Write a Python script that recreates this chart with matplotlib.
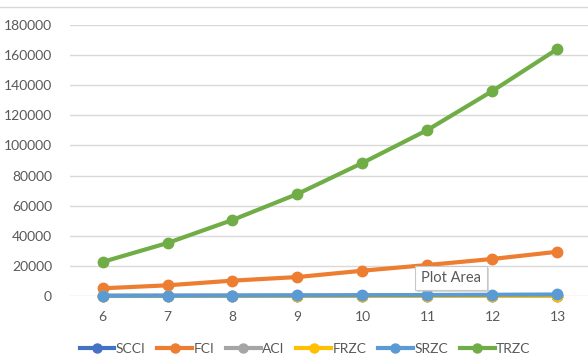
import numpy as np
import matplotlib
matplotlib.use('Agg')
import matplotlib.pyplot as plt
from matplotlib.lines import Line2D
from matplotlib.patches import Rectangle

years = [6, 7, 8, 9, 10, 11, 12, 13]
scci = [60, 80, 110, 140, 170, 210, 250, 290]
fci = [5100, 7100, 10200, 12600, 16800, 20600, 24600, 29400]
aci = [30, 40, 50, 60, 80, 90, 110, 130]
frzc = [20, 30, 40, 50, 60, 80, 90, 110]
srzc = [150, 220, 300, 400, 520, 660, 820, 1000]
trzc = [22600, 35200, 50500, 67800, 88400, 110300, 136200, 164100]

names = ['SCCI', 'FCI', 'ACI', 'FRZC', 'SRZC', 'TRZC']
colors = ['#4472C4', '#ED7D31', '#A5A5A5', '#FFC000', '#5B9BD5', '#70AD47']
series = [scci, fci, aci, frzc, srzc, trzc]

plt.rcParams['font.family'] = ['Lato', 'DejaVu Sans']

W, H = 588, 356
fig = plt.figure(figsize=(W / 100, H / 100), dpi=100)
ax = fig.add_axes([70 / W, 1 - 296 / H, 520 / W, 271 / H])

x = np.arange(len(years))
for vals, name, c in zip(series, names, colors):
    ax.plot(x, vals, color=c, lw=3, marker='o', ms=7.5, label=name,
            solid_capstyle='round', clip_on=False, zorder=3)

ax.set_xlim(-0.5, len(years) - 0.5)
ax.set_ylim(0, 180000)
ax.set_yticks(np.arange(0, 180001, 20000))
ax.set_yticklabels([str(v) for v in range(0, 180001, 20000)])
ax.set_xticks(x)
ax.set_xticklabels([str(y) for y in years])
ax.grid(axis='y', color='#D9D9D9', lw=1)
ax.set_axisbelow(True)
for s in ax.spines.values():
    s.set_visible(False)
ax.tick_params(length=0, labelsize=10, labelcolor='#595959')
ax.tick_params(axis='y', pad=13)
ax.tick_params(axis='x', pad=11)

# chart area top edge
fig.add_artist(Line2D([0, 1], [1 - 7 / H, 1 - 7 / H], color='#D9D9D9', lw=1))

handles = [Line2D([], [], color=c, lw=3, marker='o', ms=6.5) for c in colors]
fig.legend(handles, names, loc='center', bbox_to_anchor=(305 / W, 1 - 349 / H),
           ncol=6, frameon=False, fontsize=10, handlelength=2.5,
           handletextpad=0.1, columnspacing=0.85, labelcolor='#595959')

# "Plot Area" tooltip with a soft shadow
fig.add_artist(Rectangle((417 / W, 1 - 292 / H), 72 / W, 24 / H,
                         transform=fig.transFigure, fc='#BFBFBF', ec='none', alpha=0.6))
fig.add_artist(Rectangle((415 / W, 1 - 290 / H), 72 / W, 24 / H,
                         transform=fig.transFigure, fc='white', ec='#C8C8C8', lw=0.8))
fig.text(451 / W, 1 - 278.5 / H, 'Plot Area', ha='center', va='center',
         fontsize=10.5, color='#595959')

fig.savefig('out.png', dpi=100)
